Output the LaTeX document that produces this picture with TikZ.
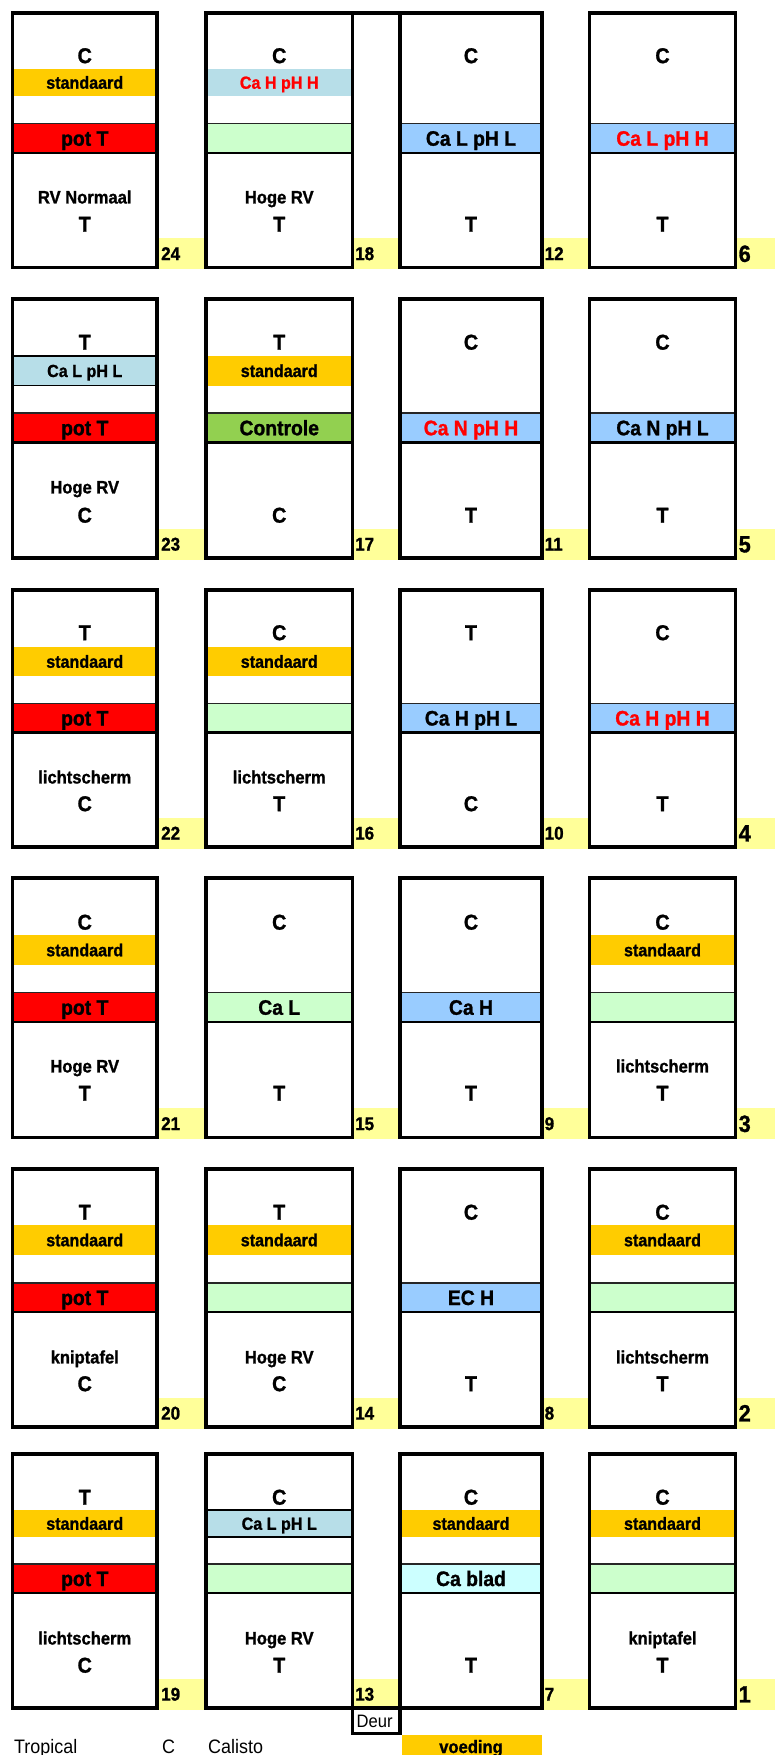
\documentclass[tikz,border=0pt]{standalone}
\usepackage{fontspec}
\setmainfont{Liberation Sans}[FakeStretch=0.92, BoldFeatures={FakeBold=1.2}]
\definecolor{orng}{HTML}{FFCC00}
\definecolor{potred}{HTML}{FF0000}
\definecolor{lgreen}{HTML}{CCFFCC}
\definecolor{lblue}{HTML}{B7DEE8}
\definecolor{sky}{HTML}{99CCFF}
\definecolor{ctrl}{HTML}{92D050}
\definecolor{cyanbl}{HTML}{CCFFFF}
\definecolor{labyel}{HTML}{FFFF99}
\tikzset{
  boxline/.style={draw=black, line width=3.5pt},
  labfill/.style={fill=labyel},
  orangeb/.style={fill=orng},
  lbb/.style={fill=lblue, draw=black, line width=1.3pt},
  lbn/.style={fill=lblue},
  redb/.style={fill=potred},
  greenb/.style={fill=lgreen},
  skyb/.style={fill=sky},
  ctrlb/.style={fill=ctrl},
  cyanb/.style={fill=cyanbl},
  topsep/.style={draw=black!85, line width=1.7pt},
  botsep/.style={draw=black, line width=2.3pt},
  txt/.style={inner sep=0pt, text depth=0pt},
  bigl/.style={txt, font=\bfseries\fontsize{21.5}{21.5}\selectfont, text height=15.3pt},
  b1t/.style={txt, font=\bfseries\fontsize{17.5}{17.5}\selectfont, text height=12.5pt},
  b2t/.style={txt, font=\bfseries\fontsize{21}{21}\selectfont, text height=15pt},
  subt/.style={txt, font=\bfseries\fontsize{18}{18}\selectfont, text height=12.9pt},
  num1/.style={txt, anchor=west, font=\bfseries\fontsize{18.5}{18.5}\selectfont, text height=13.2pt},
  num2/.style={num1}, num3/.style={num1},
  num4/.style={txt, anchor=west, font=\bfseries\fontsize{23.5}{23.5}\selectfont, text height=16.8pt},
  legend/.style={inner sep=0pt, anchor=base west, font=\fontsize{19.5}{19.5}\selectfont},
  legendb/.style={inner sep=0pt, anchor=base, font=\bfseries\fontsize{18}{18}\selectfont},
  deurt/.style={inner sep=0pt, anchor=west, text height=13pt, text depth=0pt, font=\fontsize{18}{18}\selectfont},
}
\def\nob{noband}
\newcommand\setrow[9]{\def\rT{#1}\def\rB{#2}\def\yC{#3}\def\yAa{#4}\def\yAb{#5}\def\yBa{#6}\def\yBb{#7}\def\yL{#8}\def\yT{#9}}
\newcommand\kas[9]{%
  \ifcase#1\or
    \def\xL{12.5}\def\xR{157}\def\xN{206}\def\xt{161}%
  \or
    \def\xL{206}\def\xR{352.5}\def\xN{400}\def\xt{355}%
  \or
    \def\xL{400}\def\xR{542}\def\xN{589.5}\def\xt{544.5}%
  \or
    \def\xL{589.5}\def\xR{735.5}\def\xN{775}\def\xt{738.5}%
  \fi
  \fill[labfill] (\xR,\rB-29.5) rectangle (\xN,\rB+1.75);
  \node[num#1] (num-#2) at (\xt,\rB-14) {#2};
  \def\tmpA{#4}%
  \ifx\tmpA\nob\else
    \path[#4] (\xL,\yAa) rectangle (\xR,\yAb);
  \fi
  \if\relax\detokenize{#5}\relax\else
    \node[b1t] (band1-#2) at ({(\xL+\xR)/2},{(\yAa+\yAb)/2}) {#5};
  \fi
  \path[#6] (\xL,\yBa) rectangle (\xR,\yBb);
  \draw[topsep] (\xL,\yBa) -- (\xR,\yBa);
  \draw[botsep] (\xL,\yBb) -- (\xR,\yBb);
  \if\relax\detokenize{#7}\relax\else
    \node[b2t] (band2-#2) at ({(\xL+\xR)/2},{(\yBa+\yBb)/2}) {#7};
  \fi
  \node[bigl] (top-#2) at ({(\xL+\xR)/2},\yC) {#3};
  \if\relax\detokenize{#8}\relax\else
    \node[subt] (sub-#2) at ({(\xL+\xR)/2},\yL) {#8};
  \fi
  \node[bigl] (bot-#2) at ({(\xL+\xR)/2},\yT) {#9};
  \draw[boxline] (\xL,\rT) rectangle (\xR,\rB);
}
\begin{document}
\begin{tikzpicture}[x=1pt,y=-1pt]
\useasboundingbox (0,0) rectangle (775,1755);
\fill[white] (0,0) rectangle (775,1755);
% Row 1
\setrow{13}{267.5}{55.5}{69}{96}{123.5}{153}{197}{224}
\kas{1}{24}{C}{orangeb}{standaard}{redb}{pot T}{RV Normaal}{T}
\kas{2}{18}{C}{lbn}{\textcolor{red}{Ca H pH H}}{greenb}{}{Hoge RV}{T}
\kas{3}{12}{C}{noband}{}{skyb}{Ca L pH L}{}{T}
\kas{4}{6}{C}{noband}{}{skyb}{\textcolor{red}{Ca L pH H}}{}{T}
% Row 2
\setrow{299}{558}{342}{356}{385.5}{413}{442.5}{487}{515}
\kas{1}{23}{T}{lbb}{Ca L pH L}{redb}{pot T}{Hoge RV}{C}
\kas{2}{17}{T}{orangeb}{standaard}{ctrlb}{Controle}{}{C}
\kas{3}{11}{C}{noband}{}{skyb}{\textcolor{red}{Ca N pH H}}{}{T}
\kas{4}{5}{C}{noband}{}{skyb}{Ca N pH L}{}{T}
% Row 3
\setrow{590}{847}{632.5}{647}{676}{703.5}{732.5}{777}{803.5}
\kas{1}{22}{T}{orangeb}{standaard}{redb}{pot T}{lichtscherm}{C}
\kas{2}{16}{C}{orangeb}{standaard}{greenb}{}{lichtscherm}{T}
\kas{3}{10}{T}{noband}{}{skyb}{Ca H pH L}{}{C}
\kas{4}{4}{C}{noband}{}{skyb}{\textcolor{red}{Ca H pH H}}{}{T}
% Row 4
\setrow{878}{1137.5}{922}{935}{965}{992.5}{1022}{1066}{1093}
\kas{1}{21}{C}{orangeb}{standaard}{redb}{pot T}{Hoge RV}{T}
\kas{2}{15}{C}{noband}{}{greenb}{Ca L}{}{T}
\kas{3}{9}{C}{noband}{}{skyb}{Ca H}{}{T}
\kas{4}{3}{C}{orangeb}{standaard}{greenb}{}{lichtscherm}{T}
% Row 5
\setrow{1169}{1427}{1212}{1225}{1255}{1283}{1312}{1357}{1383.5}
\kas{1}{20}{T}{orangeb}{standaard}{redb}{pot T}{kniptafel}{C}
\kas{2}{14}{T}{orangeb}{standaard}{greenb}{}{Hoge RV}{C}
\kas{3}{8}{C}{noband}{}{skyb}{EC H}{}{T}
\kas{4}{2}{C}{orangeb}{standaard}{greenb}{}{lichtscherm}{T}
% Row 6
\setrow{1454}{1708}{1497}{1510}{1537}{1564}{1593}{1638}{1665}
\kas{1}{19}{T}{orangeb}{standaard}{redb}{pot T}{lichtscherm}{C}
\kas{2}{13}{C}{lbb}{Ca L pH L}{greenb}{}{Hoge RV}{T}
\kas{3}{7}{C}{orangeb}{standaard}{cyanb}{Ca blad}{}{T}
\kas{4}{1}{C}{orangeb}{standaard}{greenb}{}{kniptafel}{T}
% connecting top line, door
\draw[boxline] (352.5,13) -- (400,13);
\draw[boxline] (352.5,1708) rectangle (400,1733.5);
\node[deurt] (deur) at (356.5,1721) {Deur};
% legend
\fill[orangeb] (401.75,1735.25) rectangle (542,1760);
\node[legendb] (voeding) at (471,1753) {voeding};
\node[legend] (tropical) at (14,1753) {Tropical};
\node[legend] (legc) at (162,1753) {C};
\node[legend] (calisto) at (208,1753) {Calisto};
\end{tikzpicture}
\end{document}
